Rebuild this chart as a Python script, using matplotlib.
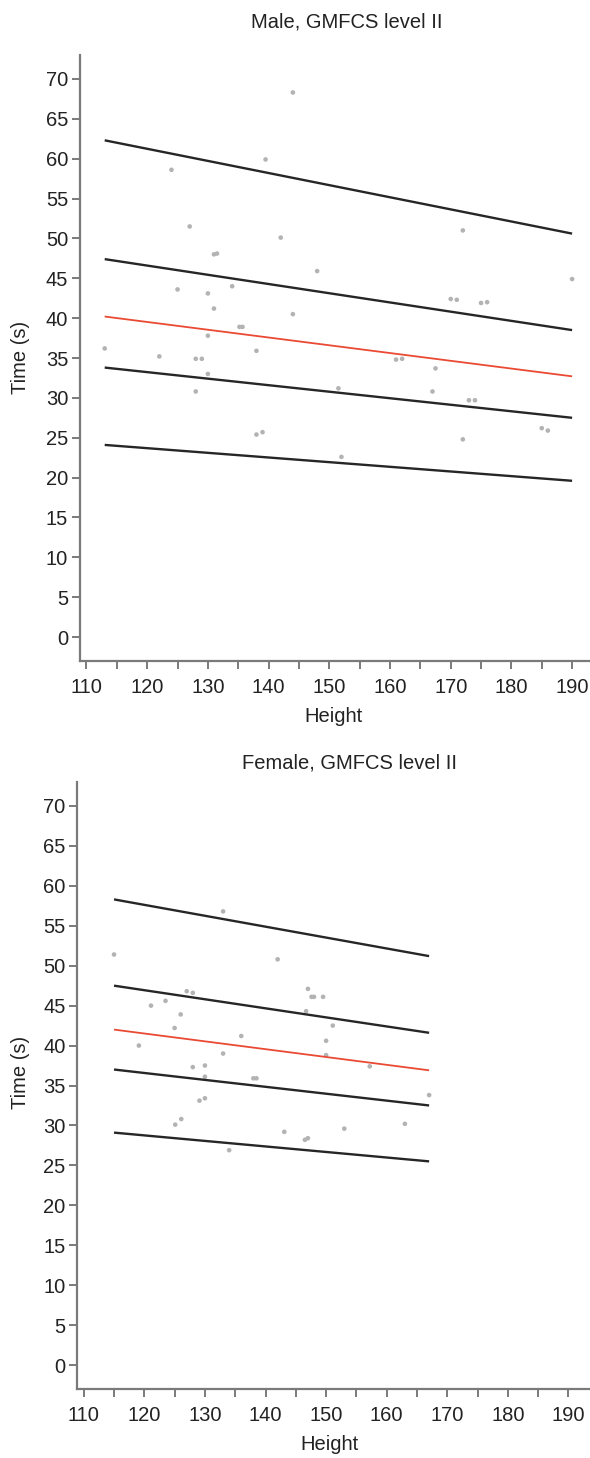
import matplotlib
matplotlib.use("Agg")
import matplotlib.pyplot as plt
from matplotlib.ticker import MultipleLocator

plt.rcParams['font.family'] = ['Liberation Sans', 'DejaVu Sans']

# ---- Male, GMFCS level II ----
male_height = [113.0, 122.0, 124.0, 125.0, 127.0, 128.0, 128.0, 129.0, 130.0, 130.0,
               130.0, 131.0, 131.0, 131.5, 134.0, 135.2, 135.7, 138.0, 138.0, 139.0,
               139.5, 142.0, 144.0, 144.0, 148.0, 151.5, 152.0, 161.0, 162.0, 167.5,
               167.0, 170.0, 171.0, 172.0, 172.0, 173.0, 174.0, 175.0, 176.0, 185.0,
               186.0, 190.0]
male_time = [36.2, 35.2, 58.6, 43.6, 51.5, 34.9, 30.8, 34.9, 43.1, 37.8,
             33.0, 41.2, 48.0, 48.1, 44.0, 38.9, 38.9, 35.9, 25.4, 25.7,
             59.9, 50.1, 68.3, 40.5, 45.9, 31.2, 22.6, 34.8, 34.9, 33.7,
             30.8, 42.4, 42.3, 51.0, 24.8, 29.7, 29.7, 41.9, 42.0, 26.2,
             25.9, 44.9]
male_line_x = [113, 190]
male_curves = {
    "upper outer": [62.3, 50.6],
    "upper inner": [47.4, 38.5],
    "median": [40.2, 32.7],
    "lower inner": [33.8, 27.5],
    "lower outer": [24.1, 19.6],
}

# ---- Female, GMFCS level II ----
female_height = [115.0, 119.1, 121.1, 123.5, 125.0, 125.1, 126.0, 126.1, 127.0, 128.0,
                 128.0, 129.1, 130.0, 130.0, 130.0, 133.0, 133.0, 134.0, 136.0, 138.0,
                 138.5, 142.0, 143.1, 146.5, 146.7, 147.0, 147.0, 147.6, 148.0, 149.5,
                 150.0, 150.0, 151.1, 153.0, 157.2, 163.0, 167.0]
female_time = [51.4, 40.0, 45.0, 45.6, 42.2, 30.1, 43.9, 30.8, 46.8, 46.6,
               37.3, 33.1, 37.5, 36.1, 33.4, 56.8, 39.0, 26.9, 41.2, 35.9,
               35.9, 50.8, 29.2, 28.2, 44.3, 47.1, 28.4, 46.1, 46.1, 46.1,
               40.6, 38.8, 42.5, 29.6, 37.4, 30.2, 33.8]
female_line_x = [115, 167]
female_curves = {
    "upper outer": [58.3, 51.2],
    "upper inner": [47.5, 41.6],
    "median": [42.0, 36.9],
    "lower inner": [37.0, 32.5],
    "lower outer": [29.1, 25.5],
}

x_ticks = list(range(110, 191, 10))
y_ticks = list(range(0, 71, 5))

W, H = 590, 1458
fig = plt.figure(figsize=(W / 100, H / 100), dpi=100)

SPINE = "#7a7a7a"
TEXT = "#222222"
FS = 14.5


def px_axes(left, top, right, bottom):
    return fig.add_axes([left / W, 1 - bottom / H, (right - left) / W, (bottom - top) / H])


def draw_panel(ax, hx, ty, lx, curves, xlim):
    ax.scatter(hx, ty, s=11, color="#b3b3b3", edgecolors="none", zorder=2)
    for name, yy in curves.items():
        if name == "median":
            ax.plot(lx, yy, color="#ea4a34", lw=1.3, solid_capstyle="butt", zorder=3)
        else:
            ax.plot(lx, yy, color="#262626", lw=1.7, solid_capstyle="butt", zorder=3)
    ax.set_xlim(*xlim)
    ax.set_ylim(-3.0, 73.0)
    ax.set_yticks(y_ticks)
    ax.set_xticks(x_ticks)
    ax.xaxis.set_minor_locator(MultipleLocator(5))
    for s in ("top", "right"):
        ax.spines[s].set_visible(False)
    for s in ("left", "bottom"):
        ax.spines[s].set_color(SPINE)
        ax.spines[s].set_linewidth(1.6)
    ax.tick_params(axis="both", which="both", direction="out", length=6,
                   width=1.4, color=SPINE, labelsize=FS, labelcolor=TEXT)
    ax.tick_params(axis="x", which="major", pad=6)
    ax.tick_params(axis="y", pad=2.5)
    ax.set_facecolor("white")


ax1 = px_axes(80, 55, 590, 661)
draw_panel(ax1, male_height, male_time, male_line_x, male_curves, (108.93, 192.95))
ax2 = px_axes(77.3, 782, 590, 1389)
draw_panel(ax2, female_height, female_time, female_line_x, female_curves, (108.94, 193.55))

fig.text(347 / W, 1 - 22 / H, "Male, GMFCS level II", ha="center", va="center",
         fontsize=FS, color=TEXT)
fig.text(350 / W, 1 - 763 / H, "Female, GMFCS level II", ha="center", va="center",
         fontsize=FS, color=TEXT)
fig.text(333 / W, 1 - 717 / H, "Height", ha="center", va="center", fontsize=FS, color=TEXT)
fig.text(330 / W, 1 - 1444 / H, "Height", ha="center", va="center", fontsize=FS, color=TEXT)
fig.text(20 / W, 1 - 357 / H, "Time (s)", ha="center", va="center", rotation=90,
         fontsize=FS, color=TEXT)
fig.text(20 / W, 1 - 1072 / H, "Time (s)", ha="center", va="center", rotation=90,
         fontsize=FS, color=TEXT)

fig.savefig("out.png", dpi=100, facecolor="white")
